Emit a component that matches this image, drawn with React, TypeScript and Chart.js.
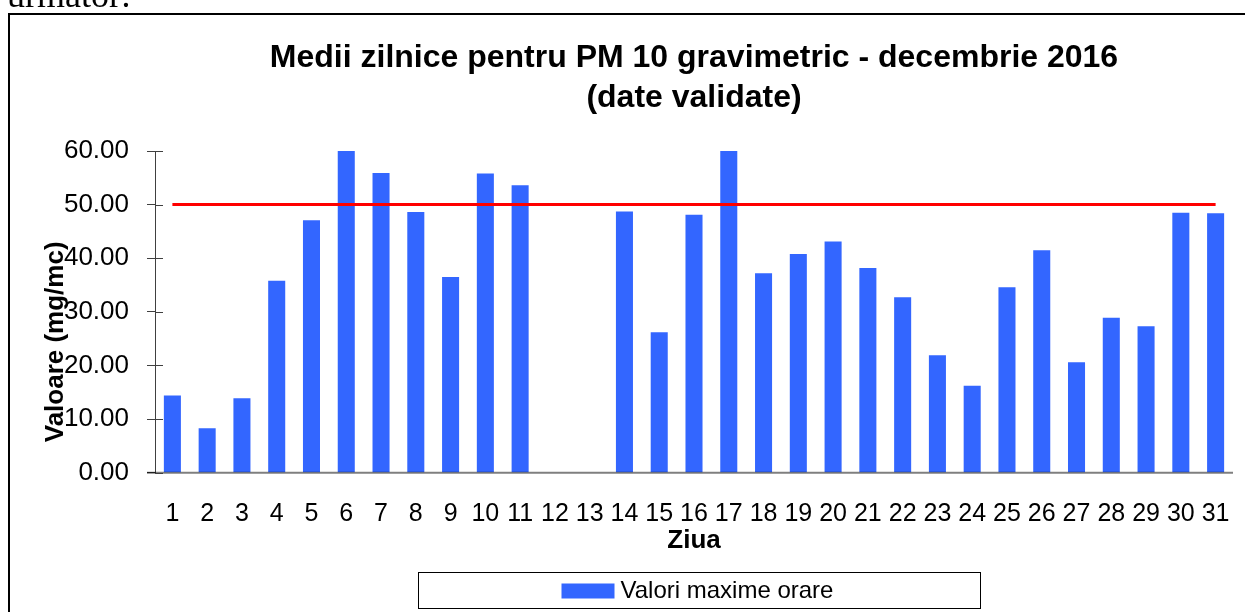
import React, { useEffect, useRef } from 'react';
import { Chart, registerables } from 'chart.js';

Chart.register(...registerables);

const days = ['1', '2', '3', '4', '5', '6', '7', '8', '9', '10', '11', '12', '13', '14', '15', '16', '17', '18', '19', '20', '21', '22', '23', '24', '25', '26', '27', '28', '29', '30', '31'];
const maxHourly = [14.4, 8.3, 13.9, 35.8, 47.1, 60.0, 55.9, 48.6, 36.5, 55.8, 53.6, null, null, 48.7, 26.2, 48.1, 60.0, 37.2, 40.8, 43.1, 38.2, 32.7, 21.9, 16.2, 34.6, 41.5, 20.6, 28.9, 27.3, 48.5, 48.4];
const limitValues = [50, 50, 50, 50, 50, 50, 50, 50, 50, 50, 50, 50, 50, 50, 50, 50, 50, 50, 50, 50, 50, 50, 50, 50, 50, 50, 50, 50, 50, 50, 50];
const yTickValues = [0, 10, 20, 30, 40, 50, 60];
const titleLines = ['Medii zilnice pentru PM 10 gravimetric - decembrie 2016', '(date validate)'];
const xAxisTitle = 'Ziua';
const yAxisTitle = 'Valoare (mg/mc)';
const legendLabel = 'Valori maxime orare';
const headerText = 'următor:';

const FONT = '"Liberation Sans", Arial, sans-serif';
const BAR_COLOR = '#3366FF';

const decorPlugin = {
  id: 'decor',
  afterDatasetsDraw(chart: any) {
    const { ctx, chartArea: ca, scales } = chart;
    const y = scales.y;
    ctx.save();
    // x axis line (drawn over bars)
    ctx.strokeStyle = 'rgba(0,0,0,0.5)';
    ctx.lineWidth = 2;
    ctx.beginPath();
    ctx.moveTo(ca.left - 8, ca.bottom);
    ctx.lineTo(ca.right, ca.bottom);
    ctx.stroke();
    // inner part of y tick marks
    ctx.strokeStyle = '#404040';
    ctx.lineWidth = 1;
    ctx.beginPath();
    yTickValues.forEach((v) => {
      const py = Math.round(y.getPixelForValue(v)) + 0.5;
      ctx.moveTo(ca.left, py);
      ctx.lineTo(ca.left + 8, py);
    });
    ctx.stroke();
    ctx.restore();
  },
  afterDraw(chart: any) {
    const { ctx, chartArea: ca } = chart;
    ctx.save();
    // y axis title
    ctx.translate(46, (ca.top + ca.bottom) / 2 + 30);
    ctx.rotate(-Math.PI / 2);
    ctx.font = `bold 26px ${FONT}`;
    ctx.fillStyle = '#000';
    ctx.textAlign = 'center';
    ctx.textBaseline = 'middle';
    ctx.fillText(yAxisTitle, 0, 0);
    ctx.restore();

    // legend
    ctx.save();
    const cx = (ca.left + ca.right) / 2 + 5;
    const bw = 562;
    const bh = 36;
    const bx = Math.round(cx - bw / 2) + 0.5;
    const by = 557.5;
    ctx.strokeStyle = '#000';
    ctx.lineWidth = 1;
    ctx.strokeRect(bx, by, bw, bh);
    ctx.fillStyle = BAR_COLOR;
    ctx.fillRect(bx + 143, by + 11, 53, 15);
    ctx.fillStyle = '#000';
    ctx.font = `24px ${FONT}`;
    ctx.textAlign = 'left';
    ctx.textBaseline = 'middle';
    ctx.fillText(legendLabel, bx + 202, by + 19);
    ctx.restore();
  },
};

export default function App() {
  const canvasRef = useRef<HTMLCanvasElement | null>(null);

  useEffect(() => {
    if (!canvasRef.current) return;
    const chart = new Chart(canvasRef.current, {
      type: 'bar',
      data: {
        labels: days,
        datasets: [
          {
            type: 'line',
            label: 'Limita',
            data: limitValues,
            borderColor: '#FF0000',
            borderWidth: 3,
            pointRadius: 0,
            fill: false,
            order: 1,
          } as any,
          {
            type: 'bar',
            label: legendLabel,
            data: maxHourly,
            backgroundColor: BAR_COLOR,
            barPercentage: 0.49,
            categoryPercentage: 1,
            order: 2,
          },
        ],
      },
      options: {
        responsive: false,
        animation: false,
        devicePixelRatio: 1,
        layout: { padding: { left: 0, right: 12, top: 0, bottom: 55.3 } },
        plugins: {
          legend: { display: false },
          tooltip: { enabled: false },
          title: {
            display: true,
            text: titleLines,
            color: '#000',
            fullSize: false,
            font: { family: FONT, size: 32, weight: 'bold', lineHeight: 40 / 32 },
            padding: { top: 23, bottom: 33 },
          },
        },
        scales: {
          x: {
            grid: {
              display: true,
              drawOnChartArea: false,
              drawTicks: true,
              tickLength: 22,
              color: 'rgba(0,0,0,0)',
            },
            border: { display: false },
            ticks: {
              color: '#000',
              font: { family: FONT, size: 25 },
              padding: 4,
              maxRotation: 0,
              autoSkip: false,
            },
            title: {
              display: true,
              text: xAxisTitle,
              color: '#000',
              font: { family: FONT, size: 26, weight: 'bold' },
              padding: { top: 0, bottom: 0 },
            },
            afterFit: (s: any) => {
              s.height = 84;
            },
          },
          y: {
            min: 0,
            max: 60,
            grid: {
              display: true,
              drawOnChartArea: false,
              drawTicks: true,
              tickLength: 8,
              color: '#404040',
            },
            border: { display: true, color: '#404040', width: 1 },
            ticks: {
              stepSize: 10,
              color: '#000',
              font: { family: FONT, size: 26 },
              padding: 18,
              callback: (v: any) => Number(v).toFixed(2),
            },
            afterFit: (s: any) => {
              s.width = 145;
            },
          },
        },
      },
      plugins: [decorPlugin],
    });
    return () => chart.destroy();
  }, []);

  return (
    <>
      <div
        style={{
          position: 'fixed',
          left: 7,
          top: -23,
          fontFamily: '"Liberation Serif", "Times New Roman", serif',
          fontSize: 36,
          lineHeight: '36px',
          whiteSpace: 'nowrap',
          color: '#000',
        }}
      >
        {headerText}
      </div>
      <div
        style={{
          position: 'fixed',
          left: 8,
          top: 13,
          width: 1300,
          height: 700,
          border: '2px solid #000',
          background: '#fff',
        }}
      >
        <canvas ref={canvasRef} width={1235} height={597} style={{ display: 'block' }} />
      </div>
    </>
  );
}
